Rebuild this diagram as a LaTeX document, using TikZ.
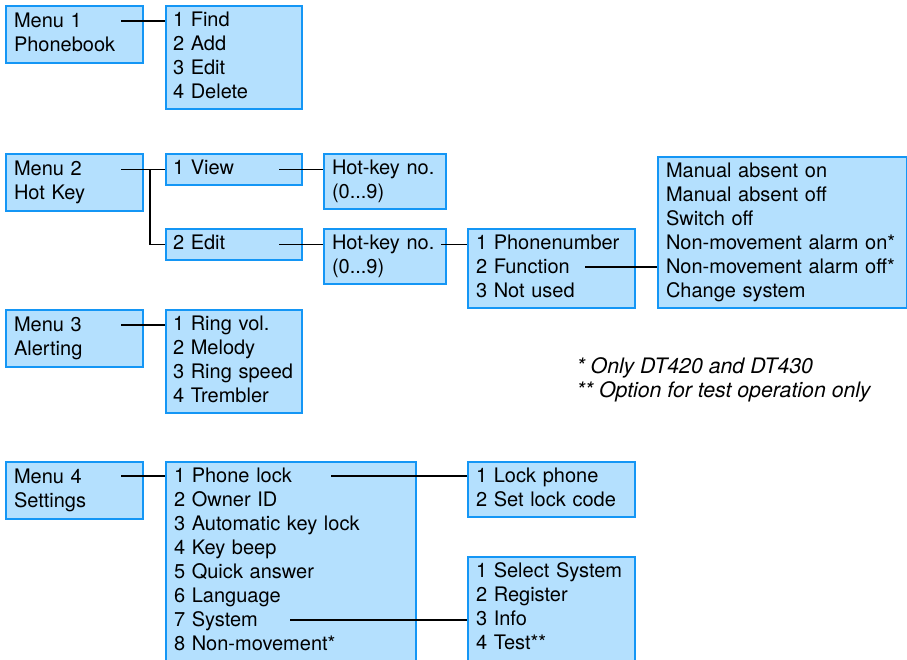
\documentclass[tikz,border=0pt]{standalone}
\usepackage{fontspec}
\setmainfont{TeX Gyre Heros}
\definecolor{boxfill}{RGB}{180,224,254}
\definecolor{boxline}{RGB}{20,150,245}

\begin{document}
\begin{tikzpicture}%
    [x = 1pt, y = -1pt,
     box/.style = {draw=boxline, fill=boxfill, line width=2pt, anchor=north west,
                   align=left, inner xsep=8pt, inner ysep=3.5pt,
                   font=\fontsize{20}{24}\selectfont,
                   execute at begin node=\strut, execute at end node=\strut},
     menu/.style = {box, text width=121pt, minimum height=57pt},
     list/.style = {box, inner xsep=7pt, text width=122pt},
     hotkey/.style = {box, text width=106pt},
     sub/.style = {box, text width=151pt},
     wide/.style = {box, text width=234pt},
     cut/.style = {execute at end node={\strut\rule[-12pt]{0pt}{12pt}}},
     note/.style = {anchor=west, font=\fontsize{21.3}{24}\selectfont\itshape},
     link/.style = {line width=1.9pt, black}]
    \useasboundingbox (0,0) rectangle (907,659);

    % Menu 1
    \node [menu] (m1) at (5,5) {Menu 1\\Phonebook};
    \node [list] (find) at (165,5) {1 Find\\2 Add\\3 Edit\\4 Delete};
    \draw [link] ([xshift=-23pt,yshift=-16pt]m1.north east) coordinate (c1) -- (c1 -| find.west);

    % Menu 2
    \node [menu] (m2) at (5,153) {Menu 2\\Hot Key};
    \node [list] (view) at (165,153) {1 View};
    \node [hotkey] (hk1) at (323,153) {Hot-key no.\\(0...9)};
    \node [list] (edit) at (165,228) {2 Edit};
    \node [hotkey] (hk2) at (323,228) {Hot-key no.\\(0...9)};
    \node [sub] (pnum) at (467,228) {1 Phonenumber\\2 Function\\3 Not used};
    \node [wide, text width=233pt] (func) at (657,156) {Manual absent on\\Manual absent off\\Switch off\\Non-movement alarm on*\\Non-movement alarm off*\\Change system};
    \draw [link] ([xshift=-23pt]m2.north east |- view.west) coordinate (c2) -- (c2 -| view.west);
    \draw [link] (c2 -| 150,0) |- (edit.west);
    \draw [link] ([xshift=-24pt]view.east) -- (view.east -| hk1.west);
    \draw [link] ([xshift=-24pt]edit.east) -- (edit.east -| hk2.west);
    \draw [link] ([xshift=-6pt]hk2.north east |- edit.east) coordinate (c3) -- (c3 -| pnum.west);
    \draw [link] ([xshift=-51pt,yshift=-39pt]pnum.north east) coordinate (c4) -- (c4 -| func.west);

    % Menu 3
    \node [menu] (m3) at (5,309) {Menu 3\\Alerting};
    \node [list] (ring) at (165,309) {1 Ring vol.\\2 Melody\\3 Ring speed\\4 Trembler};
    \draw [link] ([xshift=-23pt,yshift=-16pt]m3.north east) coordinate (c5) -- (c5 -| ring.west);

    \node [note] (n1) at (573,368) {* Only DT420 and DT430};
    \node [note] (n2) at (573,392) {** Option for test operation only};

    % Menu 4
    \node [menu] (m4) at (5,461) {Menu 4\\Settings};
    \node [wide, cut] (set) at (165,461) {1 Phone lock\\2 Owner ID\\3 Automatic key lock\\4 Key beep\\5 Quick answer\\6 Language\\7 System\\8 Non-movement*};
    \node [sub] (lock) at (467,461) {1 Lock phone\\2 Set lock code};
    \node [sub, cut] (sys) at (467,556) {1 Select System\\2 Register\\3 Info\\4 Test**};
    \draw [link] ([xshift=-23pt,yshift=-15pt]m4.north east) coordinate (c6) -- (c6 -| set.west);
    \draw [link] ([xshift=166pt,yshift=-15pt]set.north west) coordinate (c7) -- (c7 -| lock.west);
    \draw [link] ([xshift=125pt,yshift=-159pt]set.north west) coordinate (c8) -- (c8 -| sys.west);
\end{tikzpicture}
\end{document}
